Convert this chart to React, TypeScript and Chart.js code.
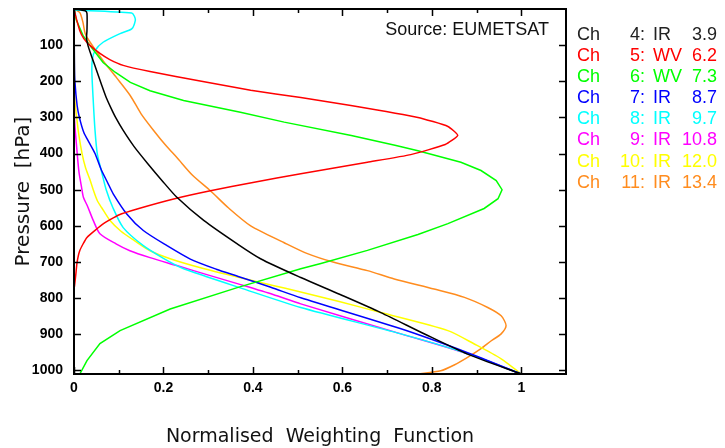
import { useEffect, useRef } from "react";
import { Chart, registerables } from "chart.js";

Chart.register(...registerables);

// ---------- data (pressure in hPa, normalised weighting function) ----------
const ch4Pressure = [0, 5, 12, 60, 80, 100, 130, 161, 211, 245, 275, 300, 336, 380, 428, 475, 521, 585, 650, 691, 743, 790, 840, 900, 955, 1010];
const ch4Weight = [0, 0.025, 0.029, 0.029, 0.028, 0.031, 0.039, 0.048, 0.062, 0.072, 0.083, 0.093, 0.11, 0.134, 0.165, 0.197, 0.23, 0.29, 0.365, 0.417, 0.507, 0.595, 0.686, 0.785, 0.88, 1.0];

const ch5Pressure = [0, 30, 60, 82, 100, 123, 140, 156, 173, 200, 225, 245, 267, 300, 325, 350, 375, 403, 424, 456, 480, 503, 525, 552, 570, 594, 632, 668, 700, 735, 768];
const ch5Weight = [0, 0.006, 0.013, 0.022, 0.035, 0.058, 0.08, 0.11, 0.17, 0.285, 0.395, 0.507, 0.619, 0.769, 0.836, 0.858, 0.83, 0.753, 0.656, 0.507, 0.4, 0.305, 0.225, 0.145, 0.1, 0.066, 0.029, 0.013, 0.007, 0.004, 0.001];

const ch6Pressure = [0, 30, 73, 100, 148, 175, 203, 226, 253, 286, 313, 350, 378, 392, 424, 447, 475, 500, 525, 552, 594, 624, 668, 704, 719, 771, 830, 890, 926, 973, 1010];
const ch6Weight = [0, 0.005, 0.02, 0.035, 0.065, 0.092, 0.126, 0.17, 0.245, 0.372, 0.47, 0.62, 0.72, 0.769, 0.865, 0.91, 0.944, 0.957, 0.948, 0.917, 0.836, 0.769, 0.656, 0.552, 0.507, 0.365, 0.215, 0.103, 0.058, 0.029, 0.013];

const ch7Pressure = [0, 150, 200, 267, 300, 342, 370, 400, 445, 480, 512, 567, 613, 655, 692, 720, 740, 770, 799, 885, 951, 1010];
const ch7Weight = [0, 0.001, 0.002, 0.007, 0.012, 0.022, 0.034, 0.047, 0.061, 0.075, 0.088, 0.118, 0.155, 0.208, 0.26, 0.318, 0.367, 0.44, 0.507, 0.731, 0.88, 1.0];

const ch8Pressure = [3, 11, 20, 32, 55, 68, 92, 115, 140, 175, 253, 336, 400, 452, 500, 550, 605, 655, 690, 716, 740, 771, 826, 899, 954, 1010];
const ch8Weight = [0, 0.129, 0.135, 0.137, 0.129, 0.103, 0.065, 0.047, 0.041, 0.04, 0.043, 0.047, 0.052, 0.062, 0.072, 0.087, 0.11, 0.155, 0.2, 0.24, 0.295, 0.37, 0.507, 0.731, 0.88, 1.0];

const ch9Pressure = [0, 300, 383, 450, 494, 521, 545, 585, 622, 650, 669, 688, 710, 735, 760, 790, 816, 899, 954, 1010];
const ch9Weight = [0, 0.001, 0.006, 0.011, 0.017, 0.021, 0.03, 0.043, 0.058, 0.094, 0.125, 0.17, 0.23, 0.297, 0.365, 0.445, 0.507, 0.731, 0.88, 1.0];

const ch10Pressure = [0, 250, 300, 350, 400, 440, 470, 500, 530, 550, 586, 615, 641, 669, 691, 716, 743, 765, 781, 810, 840, 890, 927, 968, 1010];
const ch10Weight = [0, 0.002, 0.006, 0.011, 0.018, 0.026, 0.035, 0.043, 0.052, 0.062, 0.081, 0.105, 0.135, 0.17, 0.215, 0.283, 0.37, 0.445, 0.5, 0.595, 0.686, 0.836, 0.895, 0.955, 1.0];

const ch11Pressure = [0, 10, 37, 68, 92, 143, 190, 240, 290, 336, 380, 411, 460, 503, 550, 600, 646, 677, 701, 724, 747, 775, 798, 826, 849, 876, 899, 918, 940, 964, 985, 1001, 1010];
const ch11Weight = [0, 0.013, 0.02, 0.025, 0.036, 0.065, 0.095, 0.126, 0.15, 0.178, 0.207, 0.23, 0.265, 0.305, 0.345, 0.395, 0.469, 0.522, 0.581, 0.656, 0.716, 0.805, 0.873, 0.925, 0.955, 0.966, 0.955, 0.933, 0.91, 0.88, 0.85, 0.82, 0.768];

const channelNumbers = [4, 5, 6, 7, 8, 9, 10, 11];
const bandNames = ["IR", "WV", "WV", "IR", "IR", "IR", "IR", "IR"];
const wavelengths = ["3.9", "6.2", "7.3", "8.7", "9.7", "10.8", "12.0", "13.4"];
const channelColors = ["#000000", "#ff0000", "#00ff00", "#0000ff", "#00ffff", "#ff00ff", "#ffff00", "#ff8c1e"];
const pressures = [ch4Pressure, ch5Pressure, ch6Pressure, ch7Pressure, ch8Pressure, ch9Pressure, ch10Pressure, ch11Pressure];
const weights = [ch4Weight, ch5Weight, ch6Weight, ch7Weight, ch8Weight, ch9Weight, ch10Weight, ch11Weight];

const xTickValues = [0, 0.2, 0.4, 0.6, 0.8, 1];
const xMinorTickValues = [0.1, 0.3, 0.5, 0.7, 0.9];
const yTickValues = [100, 200, 300, 400, 500, 600, 700, 800, 900, 1000];

const sourceText = "Source: EUMETSAT";
const xTitle = "Normalised  Weighting  Function";
const yTitle = "Pressure  [hPa]";

const framePlugin = {
  id: "frame",
  afterDraw(chart: any) {
    const { ctx, chartArea: a, scales } = chart;
    const xs = scales.x;
    const ys = scales.y;
    ctx.save();
    ctx.strokeStyle = "#000";
    ctx.lineWidth = 2;
    ctx.strokeRect(a.left, a.top, a.right - a.left, a.bottom - a.top);
    ctx.lineWidth = 1.5;
    ctx.beginPath();
    for (const v of xTickValues) {
      const px = Math.round(xs.getPixelForValue(v)) + 0.5;
      ctx.moveTo(px, a.bottom);
      ctx.lineTo(px, a.bottom - 7);
      ctx.moveTo(px, a.top);
      ctx.lineTo(px, a.top + 7);
    }
    for (const v of xMinorTickValues) {
      const px = Math.round(xs.getPixelForValue(v)) + 0.5;
      ctx.moveTo(px, a.bottom);
      ctx.lineTo(px, a.bottom - 4);
      ctx.moveTo(px, a.top);
      ctx.lineTo(px, a.top + 4);
    }
    for (const v of yTickValues) {
      const py = Math.round(ys.getPixelForValue(v)) + 0.5;
      ctx.moveTo(a.left, py);
      ctx.lineTo(a.left + 7, py);
      ctx.moveTo(a.right, py);
      ctx.lineTo(a.right - 7, py);
    }
    ctx.stroke();

    ctx.fillStyle = "#111";
    ctx.font = "18px 'Liberation Sans'";
    ctx.textBaseline = "middle";
    ctx.textAlign = "right";
    ctx.fillText(sourceText, a.right - 17, a.top + 21);

    const legendX = a.right + 11;
    const rowStep = 21.1;
    for (let i = 0; i < channelNumbers.length; i++) {
      const y = a.top + 26 + i * rowStep;
      ctx.fillStyle = channelColors[i] === "#000000" ? "#222" : channelColors[i];
      ctx.textAlign = "left";
      ctx.fillText("Ch", legendX, y);
      ctx.textAlign = "right";
      ctx.fillText(channelNumbers[i] + ":", legendX + 68, y);
      ctx.textAlign = "left";
      ctx.fillText(bandNames[i], legendX + 76, y);
      ctx.textAlign = "right";
      ctx.fillText(wavelengths[i], legendX + 140, y);
    }
    ctx.restore();
  },
};

export default function App() {
  const canvasRef = useRef<HTMLCanvasElement | null>(null);

  useEffect(() => {
    const canvas = canvasRef.current;
    if (!canvas) return;
    const datasets = channelNumbers.map((n, i) => ({
      label: `Ch ${n}: ${bandNames[i]} ${wavelengths[i]}`,
      data: pressures[i].map((p, j) => ({ x: weights[i][j], y: p })),
      borderColor: channelColors[i],
      backgroundColor: channelColors[i],
      borderWidth: 1.5,
      pointRadius: 0,
      showLine: true,
      fill: false,
      tension: i === 2 ? 0 : i === 1 ? 0.15 : 0.25,
    }));

    const chart = new Chart(canvas, {
      type: "scatter",
      data: { datasets },
      options: {
        responsive: false,
        animation: false,
        devicePixelRatio: 1,
        layout: { padding: { top: 9, right: 159, left: 0, bottom: 0 } },
        plugins: { legend: { display: false }, tooltip: { enabled: false } },
        scales: {
          x: {
            type: "linear",
            min: 0,
            max: 1.1,
            grid: { display: false, drawTicks: false },
            border: { display: false },
            afterBuildTicks: (s: any) => {
              s.ticks = xTickValues.map((v) => ({ value: v }));
            },
            afterFit: (s: any) => {
              s.height = 74;
              s.paddingLeft = 0;
              s.paddingRight = 0;
            },
            ticks: {
              autoSkip: false,
              maxRotation: 0,
              padding: 6,
              color: "#000",
              font: { family: "'Liberation Sans'", size: 14, weight: "bold" },
              callback: (v: any) => String(v),
            },
            title: {
              display: true,
              text: xTitle,
              color: "#111",
              font: { family: "'DejaVu Sans'", size: 19 },
              padding: { top: 0, bottom: 0 },
            },
          },
          y: {
            type: "linear",
            reverse: true,
            min: 0,
            max: 1010,
            grid: { display: false, drawTicks: false },
            border: { display: false },
            afterBuildTicks: (s: any) => {
              s.ticks = yTickValues.map((v) => ({ value: v }));
            },
            afterFit: (s: any) => {
              s.width = 74;
              s.paddingTop = 0;
              s.paddingBottom = 0;
            },
            ticks: {
              autoSkip: false,
              padding: 11,
              color: "#000",
              font: { family: "'Liberation Sans'", size: 14, weight: "bold" },
              callback: (v: any) => String(v),
            },
            title: {
              display: true,
              text: yTitle,
              color: "#111",
              font: { family: "'DejaVu Sans'", size: 20 },
              padding: { top: 12, bottom: 0 },
            },
          },
        },
      },
      plugins: [framePlugin],
    } as any);

    return () => chart.destroy();
  }, []);

  return (
    <div style={{ position: "fixed", left: 0, top: 0, width: 725, height: 448, background: "#fff" }}>
      <canvas ref={canvasRef} width={725} height={448} style={{ display: "block" }} />
    </div>
  );
}
